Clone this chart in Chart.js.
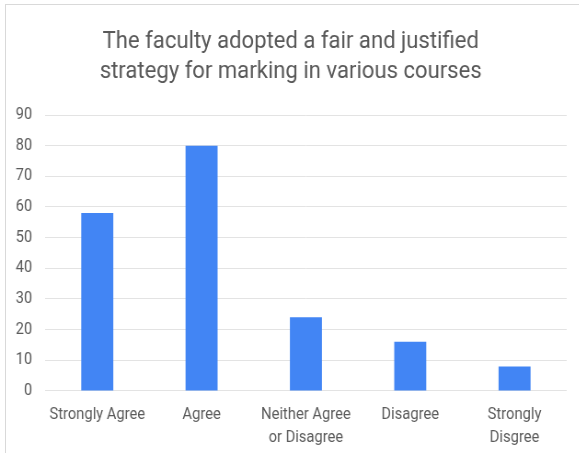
<!DOCTYPE html>
<html>
<head>
<meta charset="utf-8">
<script src="https://cdn.jsdelivr.net/npm/chart.js@4"></script>
<style>
  html, body { margin: 0; padding: 0; background: #fff; overflow: hidden; }
  #frame { position: absolute; left: 5px; top: 4px; width: 574px; height: 449px;
           border-top: 1px solid #d9d9d9; border-left: 1px solid #d9d9d9; box-sizing: border-box; z-index: 2; }
  /* the source picture is squeezed horizontally, so draw wide and scale x */
  #chart { position: absolute; left: 0; top: 0; transform: scaleX(0.92); transform-origin: 0 0; }
</style>
</head>
<body>
<canvas id="chart" width="629" height="453"></canvas>
<div id="frame"></div>
<script>
const categories = [
    "Strongly Agree",
    "Agree",
    ["Neither Agree", "or Disagree"],
    "Disagree",
    ["Strongly", "Disgree"]
];
const responses = [58, 80, 24, 16, 8];
const titleLines = [
    "The faculty adopted a fair and justified",
    "strategy for marking in various courses"
];

let ctx = document.getElementById('chart').getContext('2d');
new Chart(ctx, {
    type: 'bar',
    data: {
        labels: categories,
        datasets: [{
            data: responses,
            backgroundColor: '#4285F4',
            categoryPercentage: 1,
            barPercentage: 0.307
        }]
    },
    options: {
        responsive: false,
        animation: false,
        layout: { padding: { left: 16, right: 13, top: 5, bottom: -10 } },
        plugins: {
            legend: { display: false },
            tooltip: { enabled: false },
            title: {
                display: true,
                text: titleLines,
                color: '#595959',
                font: { family: 'Roboto', size: 24, weight: 'normal', lineHeight: 1.25 },
                padding: { top: 22, bottom: 28 }
            }
        },
        scales: {
            x: {
                grid: { display: false, drawTicks: false },
                border: { display: false },
                ticks: {
                    color: '#5b5b5b',
                    font: { family: 'Roboto', size: 16, lineHeight: 1.44 },
                    maxRotation: 0,
                    autoSkip: false,
                    padding: 13
                }
            },
            y: {
                min: 0,
                max: 90,
                afterFit: scale => { scale.width = 33; },
                ticks: {
                    stepSize: 10,
                    color: '#5b5b5b',
                    font: { family: 'Roboto', size: 16 },
                    padding: 14
                },
                grid: { color: '#e3e3e3', drawTicks: false },
                border: { display: false }
            }
        }
    }
});
</script>
</body>
</html>
